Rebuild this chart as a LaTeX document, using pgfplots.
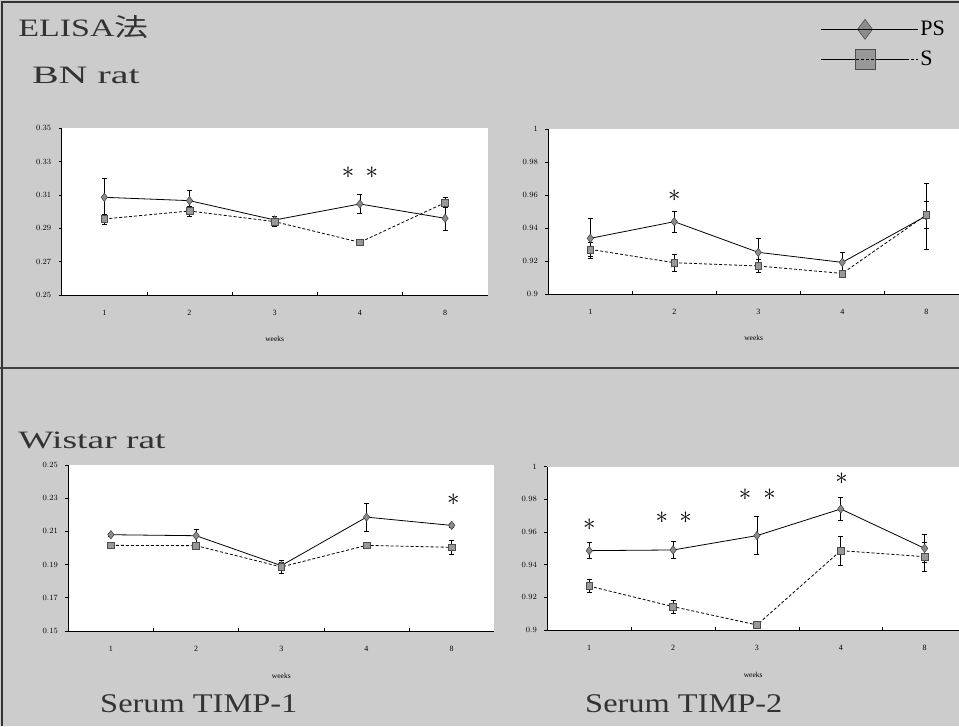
\documentclass[border=0pt]{standalone}
\usepackage{pgfplots}
\usepackage{pgfplotstable}
\pgfplotsset{compat=1.18}
\usepackage{fontspec}
\setmainfont{Liberation Serif}
\newfontfamily\cjk{Noto Sans CJK JP}
\definecolor{bg}{gray}{0.80}
\definecolor{mk}{gray}{0.55}

\pgfplotstableread{
x ps pse s se
1 0.3086 0.0114 0.2956 0.003
2 0.3066 0.0060 0.3004 0.003
3 0.2950 0.0020 0.2940 0.003
4 0.3046 0.0055 0.2816 0.002
5 0.2960 0.0070 0.3054 0.003
}\bnone
\pgfplotstableread{
x ps pse s se
1 0.9338 0.0120 0.9271 0.004
2 0.9439 0.0065 0.9190 0.005
3 0.9253 0.0085 0.9170 0.004
4 0.9192 0.0060 0.9125 0.002
5 0.9474 0.0200 0.9480 0.008
}\bntwo
\pgfplotstableread{
x ps pse s se
1 0.2080 0.0010 0.2016 0.002
2 0.2074 0.0040 0.2014 0.002
3 0.1894 0.0020 0.1886 0.004
4 0.2186 0.0085 0.2016 0.002
5 0.2136 0.0010 0.2004 0.004
}\wsone
\pgfplotstableread{
x ps pse s se
1 0.9486 0.0050 0.9269 0.004
2 0.9490 0.0050 0.9143 0.004
3 0.9578 0.0115 0.9031 0.002
4 0.9741 0.0070 0.9486 0.0088
5 0.9500 0.0086 0.9449 0.009
}\wstwo

\pgfplotsset{
  panel/.style={
    scale only axis, anchor=south west,
    axis x line*=bottom, axis y line*=left,
    axis line style={line width=0.9pt},
    axis background/.style={fill=white},
    xmin=0.5, xmax=5.5,
    xtick={1.5,2.5,3.5,4.5}, xticklabels={},
    extra x ticks={1,2,3,4,5}, extra x tick labels={1,2,3,4,8},
    extra x tick style={major tick length=0pt},
    xtick style={yshift=3pt},
    tick align=outside, major tick length=3pt,
    tick style={line width=0.6pt, black},
    xticklabel style={font=\fontsize{8}{8}\selectfont, yshift=-12pt},
    yticklabel style={font=\fontsize{8}{8}\selectfont, xshift=-4pt,
      /pgf/number format/fixed, /pgf/number format/precision=2},
    xlabel={weeks},
    xlabel style={font=\fontsize{7.5}{7.5}\selectfont, yshift=-11pt},
    clip=false,
  },
  psplot/.style={black, line width=0.8pt, mark=diamond*, mark size=4.2pt,
    mark options={solid, fill=mk, draw=gray!50!black, line width=0.5pt},
    error bars/.cd, y dir=both, y explicit,
    error bar style={solid, line width=0.7pt, black},
    error mark options={rotate=90, mark size=2.5pt, line width=0.7pt}},
  splot/.style={black, densely dashed, line width=0.8pt, mark=square*, mark size=3.4pt,
    mark options={solid, fill=mk!90, draw=gray!60!black, line width=0.5pt},
    error bars/.cd, y dir=both, y explicit,
    error bar style={solid, line width=0.7pt, black},
    error mark options={rotate=90, mark size=2.5pt, line width=0.7pt}},
}
\newcommand{\astr}{\fontsize{24}{24}\selectfont$\ast$}

\begin{document}
\begin{tikzpicture}[x=1pt,y=1pt]
\useasboundingbox (0,0) rectangle (959,726);
\fill[bg] (0,0) rectangle (959,726);
\draw[line width=2pt, black!80] (2,0) -- (2,724) -- (959,724);
\draw[line width=2pt, black!75] (0,358) -- (959,358);

% BN TIMP-1
\begin{axis}[panel, at={(61.7pt,431pt)}, width=426pt, height=166.7pt,
  ymin=0.25, ymax=0.35, ytick={0.25,0.27,0.29,0.31,0.33,0.35}]
\addplot[psplot] table[x=x, y=ps, y error=pse]{\bnone};
\addplot[splot] table[x=x, y=s, y error=se]{\bnone};
\node at (axis cs:3.86,0.3232) {\astr};
\node at (axis cs:4.14,0.3232) {\astr};
\end{axis}

% BN TIMP-2
\begin{axis}[panel, at={(548.3pt,432pt)}, width=410.7pt, height=164.7pt, xmax=5.39,
  ymin=0.9, ymax=1, ytick={0.9,0.92,0.94,0.96,0.98,1},
  legend style={at={(0.971,1.669)}, anchor=north east, draw=none, fill=none,
    font=\fontsize{22}{22}\selectfont, inner sep=0pt, row sep=10pt,
    nodes={inner sep=2pt}},
  legend cell align=left,
  legend image code/.code={\draw[#1, solid] (0pt,0pt) -- (88pt,0pt);
    \draw[only marks, mark repeat=2, mark phase=2, #1, mark size=10pt]
    plot coordinates {(0pt,0pt) (44pt,0pt) (88pt,0pt)};
    \path (0pt,0pt) -- (97pt,0pt);}]
\addplot[psplot] table[x=x, y=ps, y error=pse]{\bntwo};
\addlegendentry{PS}
\addplot[splot] table[x=x, y=s, y error=se]{\bntwo};
\addlegendentry{S}
\node at (axis cs:2.0,0.9595) {\astr};
\end{axis}

% Wistar TIMP-1
\begin{axis}[panel, at={(68.3pt,95pt)}, width=426pt, height=166pt,
  ymin=0.15, ymax=0.25, ytick={0.15,0.17,0.19,0.21,0.23,0.25}]
\addplot[psplot] table[x=x, y=ps, y error=pse]{\wsone};
\addplot[splot] table[x=x, y=s, y error=se]{\wsone};
\node at (axis cs:5.02,0.2289) {\astr};
\end{axis}

% Wistar TIMP-2
\begin{axis}[panel, at={(547.3pt,96pt)}, width=411.7pt, height=163.3pt, xmax=5.41,
  ymin=0.9, ymax=1, ytick={0.9,0.92,0.94,0.96,0.98,1}]
\addplot[psplot] table[x=x, y=ps, y error=pse]{\wstwo};
\addplot[splot] table[x=x, y=s, y error=se]{\wstwo};
\node at (axis cs:1.0,0.9643) {\astr};
\node at (axis cs:1.865,0.9688) {\astr};
\node at (axis cs:2.15,0.9688) {\astr};
\node at (axis cs:2.86,0.9827) {\astr};
\node at (axis cs:3.15,0.9827) {\astr};
\node at (axis cs:4.01,0.9929) {\astr};
\end{axis}

% texts
\node[anchor=base west, font=\fontsize{25}{25}\selectfont, xscale=1.36, inner sep=0pt, black!80] at (18,689.3) {ELISA{\cjk 法}};
\node[anchor=base west, font=\fontsize{25}{25}\selectfont, xscale=1.6, inner sep=0pt, black!80] at (31.7,642.7) {BN rat};
\node[anchor=base west, font=\fontsize{25}{25}\selectfont, xscale=1.5, inner sep=0pt, black!80] at (18,277) {Wistar rat};
\node[anchor=base west, font=\fontsize{27}{27}\selectfont, xscale=1.2, inner sep=0pt, black!80] at (100,13) {Serum TIMP-1};
\node[anchor=base west, font=\fontsize{27}{27}\selectfont, xscale=1.2, inner sep=0pt, black!80] at (585,13) {Serum TIMP-2};
\end{tikzpicture}
\end{document}
